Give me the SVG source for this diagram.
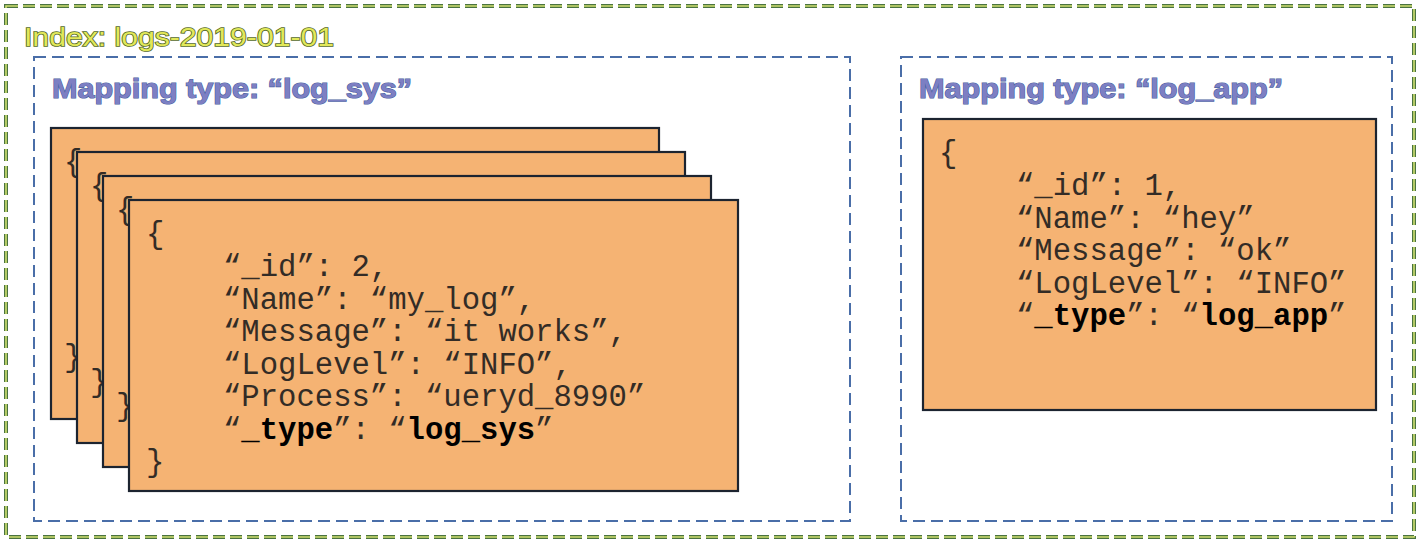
<svg xmlns="http://www.w3.org/2000/svg" width="1421" height="544" viewBox="0 0 1421 544">
<style>
.bg{fill:#ffffff}
.outer-dark{fill:none;stroke:#4a7340;stroke-width:4;stroke-dasharray:12 5}
.outer-light{fill:none;stroke:#cfe070;stroke-width:1.6;stroke-dasharray:12 5}
.mapbox{fill:none;stroke:#4a6ea8;stroke-width:2;stroke-dasharray:12 6}
.card{fill:#f5b373;stroke:#1c2430;stroke-width:2.2}
.idx{font-family:"Liberation Sans",Arial,sans-serif;font-size:26.5px;fill:#e2e85a;stroke:#55692a;stroke-width:1.6;paint-order:stroke}
.map{font-family:"Liberation Sans",Arial,sans-serif;font-size:28.5px;font-weight:bold;fill:#7d7fc3;stroke:#4a62a0;stroke-width:1.2;paint-order:stroke}
.code{font-family:"Courier New","Liberation Mono",monospace;font-size:30.6px;fill:#332c26}
.b{font-weight:bold;fill:#000000}
</style>
<rect class="bg" x="0" y="0" width="1421" height="544"/>

<g id="index-logs-2019-01-01">
  <rect class="outer-dark" x="6" y="6" width="1408" height="531"/>
  <rect class="outer-light" x="6" y="6" width="1408" height="531"/>
  <text class="idx" x="24" y="45.5" textLength="310" lengthAdjust="spacingAndGlyphs">Index: logs-2019-01-01</text>
</g>

<g id="mapping-log_sys">
  <rect class="mapbox" x="34" y="57" width="816" height="464"/>
  <text class="map" x="52" y="98" textLength="360" lengthAdjust="spacingAndGlyphs">Mapping type: “log_sys”</text>
</g>

<g id="mapping-log_app">
  <rect class="mapbox" x="901" y="57" width="491" height="464"/>
  <text class="map" x="919" y="98" textLength="364" lengthAdjust="spacingAndGlyphs">Mapping type: “log_app”</text>
</g>

<g id="doc-sys-1">
  <rect class="card" x="51" y="128" width="608" height="291"/>
  <text class="code" x="64" y="171">{</text>
  <text class="code" x="64" y="366">}</text>
</g>
<g id="doc-sys-2">
  <rect class="card" x="77" y="152" width="608" height="291"/>
  <text class="code" x="90" y="195">{</text>
  <text class="code" x="90" y="391">}</text>
</g>
<g id="doc-sys-3">
  <rect class="card" x="103" y="176" width="608" height="291"/>
  <text class="code" x="116" y="219">{</text>
  <text class="code" x="116" y="415">}</text>
</g>
<g id="doc-sys-4">
  <rect class="card" x="129" y="200" width="609" height="291"/>
  <text class="code" x="146" y="243">{</text>
  <text class="code" x="223" y="276">“_id”: 2,</text>
  <text class="code" x="223" y="308.5">“Name”: “my_log”,</text>
  <text class="code" x="223" y="341">“Message”: “it works”,</text>
  <text class="code" x="223" y="373.5">“LogLevel”: “INFO”,</text>
  <text class="code" x="223" y="406">“Process”: “ueryd_8990”</text>
  <text class="code" x="223" y="438.5">“<tspan class="b">_type</tspan>”: “<tspan class="b">log_sys</tspan>”</text>
  <text class="code" x="146" y="471">}</text>
</g>

<g id="doc-app-1">
  <rect class="card" x="923" y="119" width="453" height="291"/>
  <text class="code" x="939" y="162">{</text>
  <text class="code" x="1016" y="195">“_id”: 1,</text>
  <text class="code" x="1016" y="227.5">“Name”: “hey”</text>
  <text class="code" x="1016" y="260">“Message”: “ok”</text>
  <text class="code" x="1016" y="292.5">“LogLevel”: “INFO”</text>
  <text class="code" x="1016" y="325">“<tspan class="b">_type</tspan>”: “<tspan class="b">log_app</tspan>”</text>
</g>

<g id="connectors"/>
</svg>
